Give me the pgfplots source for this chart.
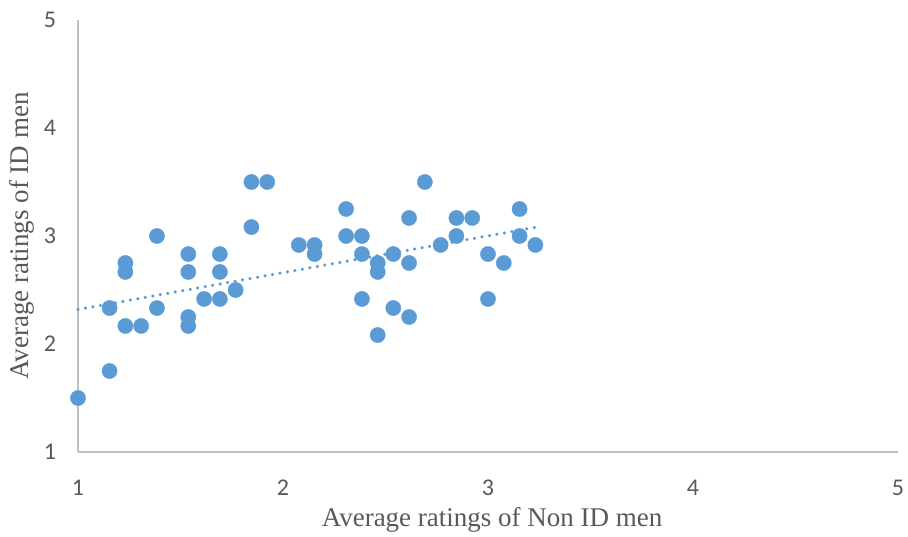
\documentclass[border=0pt]{standalone}
\usepackage{fontspec}
\setmainfont{Liberation Serif}
\newfontfamily\tickfont{Carlito}
\usepackage{pgfplots}
\pgfplotsset{compat=1.18}
\definecolor{mblue}{HTML}{5B9BD5}
\definecolor{axgray}{HTML}{BFBFBF}
\definecolor{txtgray}{HTML}{595959}
\begin{document}
\begin{tikzpicture}[x=1pt,y=1pt]
\path[use as bounding box] (-78,-84) rectangle (830,452);
\begin{axis}[
  at={(0,0)}, anchor=south west,
  scale only axis, width=820pt, height=432pt,
  xmin=1, xmax=5, ymin=1, ymax=5,
  xtick={1,2,3,4,5}, ytick={1,2,3,4,5},
  axis x line*=bottom, axis y line*=left,
  axis line style={axgray, line width=1.5pt, -},
  tick style={draw=none},
  /pgf/number format/assume math mode=true,
  ticklabel style={font=\tickfont\fontsize{24}{28}\selectfont, text=txtgray},
  xticklabel style={anchor=center, yshift=-36pt},
  yticklabel style={anchor=center, xshift=-28pt},
  xlabel={Average ratings of Non ID men},
  ylabel={Average ratings of ID men},
  label style={font=\fontsize{27}{30}\selectfont, text=txtgray},
  xlabel style={at={(axis description cs:0.505,-0.157)}, anchor=center},
  ylabel style={at={(axis description cs:-0.0683,0.5)}, anchor=center},
  clip=false,
]
\addplot[only marks, mark=*, mark size=7.6pt, mark options={fill=mblue, draw=mblue}] coordinates {
(1.000,1.500) (1.154,1.750) (1.154,2.333) (1.231,2.750) (1.231,2.667) (1.231,2.167)
(1.308,2.167) (1.385,3.000) (1.385,2.333) (1.538,2.833) (1.538,2.667) (1.538,2.250)
(1.538,2.167) (1.615,2.417) (1.692,2.833) (1.692,2.667) (1.692,2.417) (1.769,2.500)
(1.846,3.500) (1.923,3.500) (1.846,3.083) (2.077,2.917) (2.154,2.917) (2.154,2.833)
(2.308,3.250) (2.308,3.000) (2.385,3.000) (2.385,2.833) (2.385,2.417) (2.462,2.750)
(2.462,2.667) (2.462,2.083) (2.538,2.833) (2.538,2.333) (2.615,3.167) (2.615,2.750)
(2.615,2.250) (2.692,3.500) (2.769,2.917) (2.846,3.167) (2.846,3.000) (2.923,3.167)
(3.000,2.833) (3.000,2.417) (3.077,2.750) (3.154,3.250) (3.154,3.000) (3.231,2.917)
};
\addplot[mblue, line width=3.5pt, line cap=round, dash pattern=on 0pt off 7.6pt] coordinates {
(1.000,2.32) (3.231,3.08)
};
\end{axis}
\end{tikzpicture}
\end{document}
